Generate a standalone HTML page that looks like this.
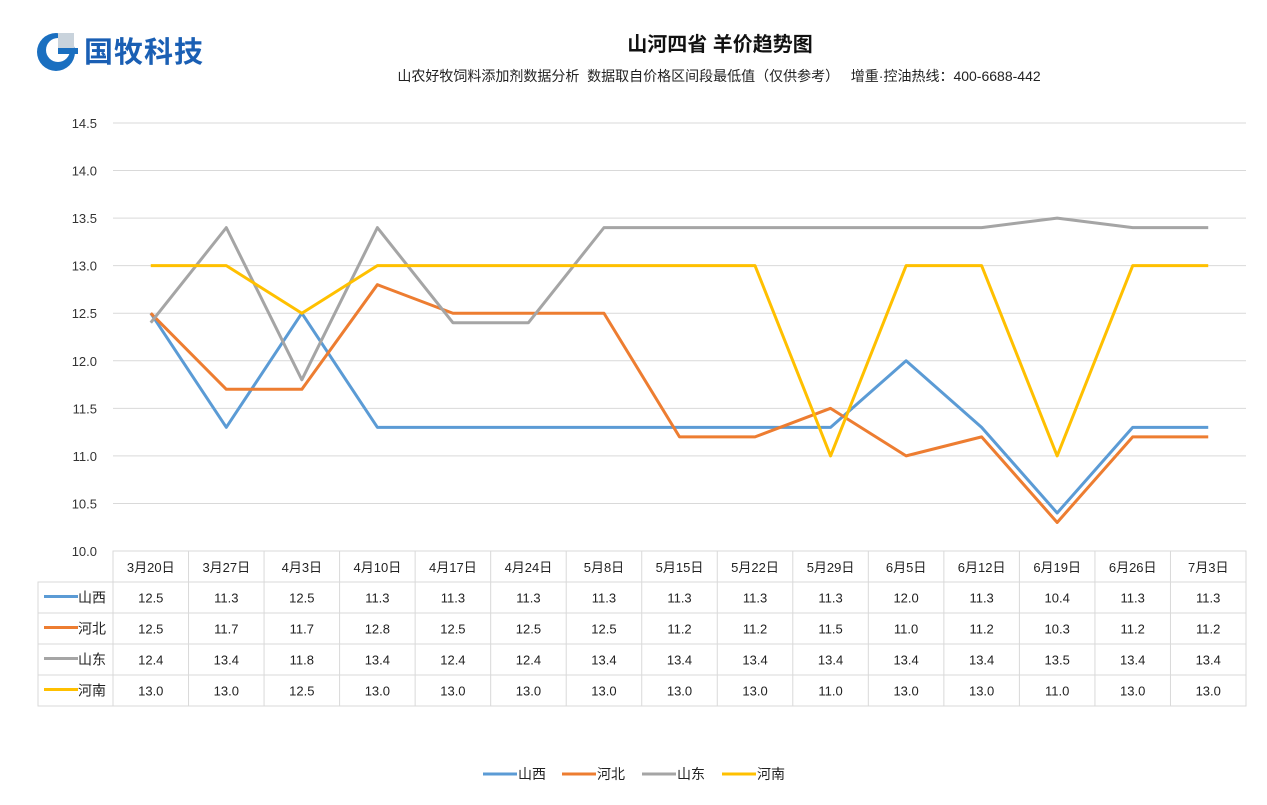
<!DOCTYPE html>
<html><head><meta charset="utf-8"><style>
body{margin:0;background:#fff;width:1267px;height:800px;overflow:hidden;font-family:"Liberation Sans","Noto Sans CJK SC",sans-serif}
</style></head><body>
<svg id="c" width="1267" height="800" xmlns="http://www.w3.org/2000/svg" font-family="Liberation Sans, Noto Sans CJK SC, sans-serif">
<g>
<circle cx="56" cy="52" r="19" fill="#1a6fc0"/>
<circle cx="58" cy="50" r="12" fill="#fff"/>
<rect x="58" y="48" width="20" height="6" fill="#1a6fc0"/>
<rect x="58" y="33" width="16" height="15" fill="#c9d3dc"/>
<text x="84" y="62" font-size="29" font-weight="bold" fill="#1a5fb4" font-family="Noto Sans CJK SC, sans-serif" letter-spacing="1">国牧科技</text>
</g>
<text x="720" y="51" font-size="20" font-weight="bold" text-anchor="middle" fill="#111">山河四省 羊价趋势图</text>
<text x="719" y="81" font-size="14" text-anchor="middle" fill="#222" xml:space="preserve">山农好牧饲料添加剂数据分析  数据取自价格区间段最低值（仅供参考）   增重·控油热线：400-6688-442</text>
<g id="grid"></g><g id="lines"></g><g id="table"></g><g id="legend"></g>
</svg>
<script>
const categories=["3月20日","3月27日","4月3日","4月10日","4月17日","4月24日","5月8日","5月15日","5月22日","5月29日","6月5日","6月12日","6月19日","6月26日","7月3日"];
const seriesNames=["山西","河北","山东","河南"];
const shanxi=[12.5,11.3,12.5,11.3,11.3,11.3,11.3,11.3,11.3,11.3,12.0,11.3,10.4,11.3,11.3];
const hebei=[12.5,11.7,11.7,12.8,12.5,12.5,12.5,11.2,11.2,11.5,11.0,11.2,10.3,11.2,11.2];
const shandong=[12.4,13.4,11.8,13.4,12.4,12.4,13.4,13.4,13.4,13.4,13.4,13.4,13.5,13.4,13.4];
const henan=[13.0,13.0,12.5,13.0,13.0,13.0,13.0,13.0,13.0,11.0,13.0,13.0,11.0,13.0,13.0];
const yTicks=[10.0,10.5,11.0,11.5,12.0,12.5,13.0,13.5,14.0,14.5];
const colors=["#5b9bd5","#ed7d31","#a5a5a5","#ffc000"];
const all=[shanxi,hebei,shandong,henan];
const NS="http://www.w3.org/2000/svg";
const X0=113,X1=1246,Y0=551,Y1=123,cw=(X1-X0)/categories.length;
const x=i=>X0+cw*(i+0.5);
const y=v=>Y0-(v-10)/(4.5)*(Y0-Y1);
function mk(t,a,p){const e=document.createElementNS(NS,t);for(const k in a)e.setAttribute(k,a[k]);p.appendChild(e);return e;}
const grid=document.getElementById('grid');
yTicks.forEach(v=>{
 if(v>10){const l=mk('line',{x1:X0,x2:X1,y1:y(v),y2:y(v),stroke:'#d9d9d9'},grid);
 
 }
 const t=mk('text',{x:97,y:y(v)+5,'font-size':13,'text-anchor':'end',fill:'#333'},grid);t.textContent=v.toFixed(1);
 
 
});
const lines=document.getElementById('lines');
all.forEach((s,k)=>{
 const p=mk('polyline',{points:s.map((v,i)=>x(i)+','+y(v)).join(' '),fill:'none',stroke:colors[k],'stroke-width':3,'stroke-linejoin':'round'},lines);
 
 
});
const tb=document.getElementById('table');
const TL=38,rh=31;
mk('rect',{x:X0,y:Y0,width:X1-X0,height:rh,fill:'none',stroke:'#d9d9d9'},tb);
mk('rect',{x:TL,y:Y0+rh,width:X1-TL,height:rh*4,fill:'none',stroke:'#d9d9d9'},tb);
for(let r=1;r<4;r++)mk('line',{x1:TL,x2:X1,y1:Y0+rh*(r+1),y2:Y0+rh*(r+1),stroke:'#d9d9d9'},tb);
for(let i=0;i<=categories.length;i++)mk('line',{x1:X0+cw*i,x2:X0+cw*i,y1:Y0,y2:Y0+rh*5,stroke:'#d9d9d9'},tb);
categories.forEach((c,i)=>{
 const t=mk('text',{x:x(i),y:Y0+21,'font-size':13,'text-anchor':'middle',fill:'#222'},tb);t.textContent=c;
 
 
});
all.forEach((s,k)=>{
 const cy=Y0+rh*(k+1)+rh/2;
 mk('line',{x1:44,x2:78,y1:cy-1,y2:cy-1,stroke:colors[k],'stroke-width':3},tb);
 const n=mk('text',{x:78,y:cy+5,'font-size':14,fill:'#222'},tb);n.textContent=seriesNames[k];
 
 
 s.forEach((v,i)=>{
  const t=mk('text',{x:x(i),y:cy+5,'font-size':13,'text-anchor':'middle',fill:'#222'},tb);t.textContent=v.toFixed(1);
  
  
 });
});
const lg=document.getElementById('legend');
const lx=[483,562,642,722];
seriesNames.forEach((n,k)=>{
 const g=mk('g',{},lg);
 
 
 mk('line',{x1:lx[k],x2:lx[k]+34,y1:774,y2:774,stroke:colors[k],'stroke-width':3},g);
 const t=mk('text',{x:lx[k]+35,y:779,'font-size':14,fill:'#222'},g);t.textContent=n;
});
</script>
</body></html>
